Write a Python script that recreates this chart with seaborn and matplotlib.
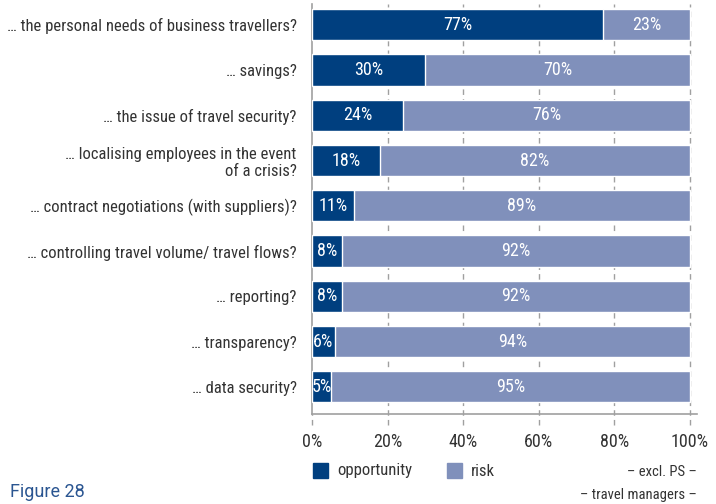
import matplotlib
matplotlib.use("Agg")
import matplotlib.pyplot as plt
from matplotlib.patches import Rectangle
import seaborn as sns
import pandas as pd

questions = [
    "… the personal needs of business travellers?",
    "… savings?",
    "… the issue of travel security?",
    "… localising employees in the event\nof a crisis?",
    "… contract negotiations (with suppliers)?",
    "… controlling travel volume/ travel flows?",
    "… reporting?",
    "… transparency?",
    "… data security?",
]
opportunity = [77, 30, 24, 18, 11, 8, 8, 6, 5]
risk = [23, 70, 76, 82, 89, 92, 92, 94, 95]
x_ticks = [0, 20, 40, 60, 80, 100]
x_tick_labels = ["0%", "20%", "40%", "60%", "80%", "100%"]

DARK = "#003f7f"
LIGHT = "#8090bb"
GRID = "#a0a0a0"
TEXT = "#333333"

sns.set_theme(style="white")
plt.rcParams["font.family"] = ["Roboto Condensed", "DejaVu Sans"]

df = pd.DataFrame({"question": questions, "opportunity": opportunity, "risk": risk})
df["total"] = df["opportunity"] + df["risk"]

fig = plt.figure(figsize=(7.16, 5.04), dpi=100)
# axis runs from x=312px to 697px; 100 % falls at 690px
ax = fig.add_axes([312 / 716, 1 - 414 / 504, 385 / 716, 410 / 504])
XMAX = 100 * 385 / 378

sns.barplot(data=df, y="question", x="total", orient="h", color=LIGHT,
            width=0.69, saturation=1, ax=ax, zorder=2)
sns.barplot(data=df, y="question", x="opportunity", orient="h", color=DARK,
            width=0.69, saturation=1, ax=ax, zorder=3)

YB, YT = 8.6, -0.46
ax.set_xlim(0, XMAX)
ax.set_ylim(YB, YT)
ax.set_xlabel("")
ax.set_ylabel("")
ax.set_xticks(x_ticks)
ax.set_xticklabels(x_tick_labels, fontsize=13, color=TEXT)
ax.tick_params(axis="x", length=0, pad=14)
ax.tick_params(axis="y", length=0, pad=11)
for lbl in ax.get_yticklabels():
    lbl.set_fontsize(12)
    lbl.set_color(TEXT)
    lbl.set_multialignment("right")

# dashed vertical guides running through the axis into the tick area
for t in x_ticks[1:]:
    ax.plot([t, t], [YB + 0.25, YT], color=GRID, lw=1, ls=(0, (4, 3)),
            zorder=1, clip_on=False)
ax.plot([0, 0], [YB + 0.25, YB], color=GRID, lw=1, ls=(0, (4, 3)), clip_on=False)

for side in ["top", "right"]:
    ax.spines[side].set_visible(False)
ax.spines["left"].set_color(GRID)
ax.spines["left"].set_linewidth(1.2)
ax.spines["bottom"].set_color(GRID)
ax.spines["bottom"].set_linewidth(1.2)

# value labels centred in each segment
for i, (o, r) in enumerate(zip(opportunity, risk)):
    ax.text(max(o / 2, 2.6), i, f"{o}%", ha="center", va="center",
            color="white", fontsize=13, zorder=5)
    ax.text(o + r / 2, i, f"{r}%", ha="center", va="center",
            color="white", fontsize=13, zorder=5)

# legend
fig.patches.append(Rectangle((313 / 716, 1 - 478 / 504), 15 / 716, 15 / 504,
                             transform=fig.transFigure, color=DARK))
fig.text(337 / 716, 1 - 471 / 504, "opportunity", fontsize=12, color=TEXT, va="center")
fig.patches.append(Rectangle((447 / 716, 1 - 478 / 504), 15 / 716, 15 / 504,
                             transform=fig.transFigure, color=LIGHT))
fig.text(471 / 716, 1 - 471 / 504, "risk", fontsize=12, color=TEXT, va="center")

fig.text(697 / 716, 1 - 472 / 504, "– excl. PS –", fontsize=10.5, color=TEXT,
         ha="right", va="center")
fig.text(697 / 716, 1 - 495 / 504, "– travel managers –", fontsize=10.5, color=TEXT,
         ha="right", va="center")
fig.text(10 / 716, 1 - 492 / 504, "Figure 28", fontsize=13, color="#2a5591",
         ha="left", va="center", family=["Roboto", "DejaVu Sans"])

fig.savefig("out.png", dpi=100)
